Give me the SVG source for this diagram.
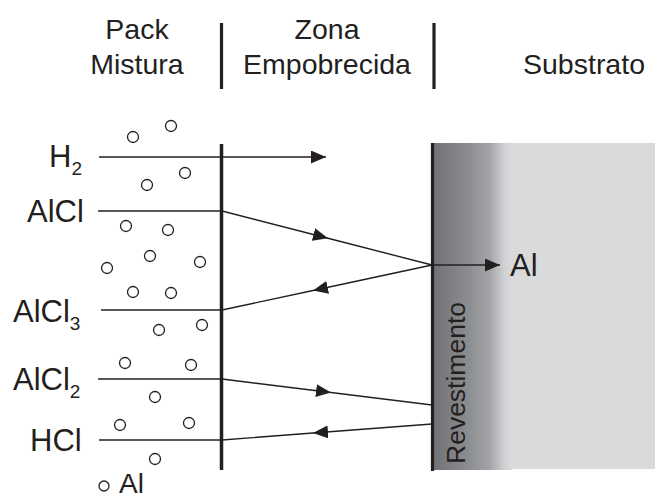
<svg xmlns="http://www.w3.org/2000/svg" width="655" height="499" viewBox="0 0 655 499">
  <style>
    text { font-family: "Liberation Sans", Arial, sans-serif; fill: #231f20; }
    .hdr { font-size: 28.5px; text-anchor: middle; }
    .lbl { font-size: 31px; }
    .sub { font-size: 19px; }
    .wire { stroke: #231f20; stroke-width: 1.4; fill: none; }
    .bar { stroke: #231f20; stroke-width: 3.2; }
    .grain { fill: none; stroke: #231f20; stroke-width: 1.3; }
  </style>
  <defs>
    <marker id="head" markerUnits="userSpaceOnUse" markerWidth="16" markerHeight="14" refX="15" refY="6.5" orient="auto">
      <path d="M0,0 L15,6.5 L0,13 Z" fill="#231f20"/>
    </marker>
    <linearGradient id="coat" x1="433" y1="0" x2="512" y2="0" gradientUnits="userSpaceOnUse">
      <stop offset="0" stop-color="#717275"/>
      <stop offset="0.45" stop-color="#8c8d90"/>
      <stop offset="0.72" stop-color="#a3a4a7"/>
      <stop offset="0.9" stop-color="#cfd0d2"/>
      <stop offset="1" stop-color="#d9dadc"/>
    </linearGradient>
  </defs>

  <!-- column headings and dividers -->
  <g id="headers">
    <text class="hdr" x="137" y="39">Pack</text>
    <text class="hdr" x="137" y="74">Mistura</text>
    <text class="hdr" x="327" y="39">Zona</text>
    <text class="hdr" x="327" y="74">Empobrecida</text>
    <text class="hdr" x="584" y="74">Substrato</text>
    <line class="bar" x1="221.5" y1="23" x2="221.5" y2="89"/>
    <line class="bar" x1="434" y1="23" x2="434" y2="89"/>
  </g>

  <!-- substrate with graded coating layer -->
  <g id="substrate">
    <rect x="433" y="143" width="222" height="326" fill="#d9dadc"/>
    <rect x="433" y="143" width="79" height="327" fill="url(#coat)"/>
    <line class="bar" x1="432.5" y1="143" x2="432.5" y2="471"/>
    <text transform="translate(465,464) rotate(-90)" font-size="26.5">Revestimento</text>
  </g>

  <!-- pack boundary -->
  <g id="pack-boundary">
    <line x1="221.5" y1="144" x2="221.5" y2="470" stroke="#231f20" stroke-width="3.5"/>
  </g>

  <!-- Al particles in the pack -->
  <g id="particles">
    <circle class="grain" cx="133" cy="137" r="5.5"/>
    <circle class="grain" cx="171" cy="126" r="5.5"/>
    <circle class="grain" cx="185" cy="173" r="5.5"/>
    <circle class="grain" cx="147" cy="185" r="5.5"/>
    <circle class="grain" cx="126" cy="226" r="5.5"/>
    <circle class="grain" cx="168" cy="230" r="5.5"/>
    <circle class="grain" cx="150" cy="256" r="5.5"/>
    <circle class="grain" cx="200" cy="262" r="5.5"/>
    <circle class="grain" cx="107" cy="268" r="5.5"/>
    <circle class="grain" cx="133" cy="292" r="5.5"/>
    <circle class="grain" cx="171" cy="293" r="5.5"/>
    <circle class="grain" cx="159" cy="330" r="5.5"/>
    <circle class="grain" cx="202" cy="325" r="5.5"/>
    <circle class="grain" cx="125" cy="363" r="5.5"/>
    <circle class="grain" cx="191" cy="365" r="5.5"/>
    <circle class="grain" cx="155" cy="397" r="5.5"/>
    <circle class="grain" cx="120" cy="425" r="5.5"/>
    <circle class="grain" cx="189" cy="423" r="5.5"/>
    <circle class="grain" cx="155" cy="459" r="5.5"/>
  </g>

  <!-- species labels -->
  <g id="label-h2"><text class="lbl" x="49" y="167">H<tspan class="sub" dy="8">2</tspan></text></g>
  <g id="label-alcl"><text class="lbl" x="27" y="222">AlCl</text></g>
  <g id="label-alcl3"><text class="lbl" x="13" y="322">AlCl<tspan class="sub" dy="8">3</tspan></text></g>
  <g id="label-alcl2"><text class="lbl" x="13" y="390">AlCl<tspan class="sub" dy="8">2</tspan></text></g>
  <g id="label-hcl"><text class="lbl" x="30" y="451">HCl</text></g>
  <g id="label-al"><text class="lbl" x="510" y="276">Al</text></g>
  <g id="legend">
    <circle class="grain" cx="104" cy="486" r="5"/>
    <text x="119" y="493" font-size="28">Al</text>
  </g>

  <!-- transport paths -->
  <g id="connectors">
    <line class="wire" x1="99" y1="157" x2="326" y2="157" marker-end="url(#head)"/>
    <line class="wire" x1="98" y1="211" x2="222" y2="211"/>
    <path class="wire" d="M222,211 L328,238.3 L432,265" marker-mid="url(#head)"/>
    <line class="wire" x1="101" y1="310" x2="222" y2="310"/>
    <path class="wire" d="M432,265 L313,290.5 L222,310" marker-mid="url(#head)"/>
    <line class="wire" x1="432" y1="265" x2="500" y2="265" marker-end="url(#head)"/>
    <line class="wire" x1="98" y1="379" x2="222" y2="379"/>
    <path class="wire" d="M222,379 L331,392.5 L432,405" marker-mid="url(#head)"/>
    <line class="wire" x1="99" y1="440" x2="222" y2="440"/>
    <path class="wire" d="M432,424 L313,433 L222,440" marker-mid="url(#head)"/>
  </g>
</svg>
